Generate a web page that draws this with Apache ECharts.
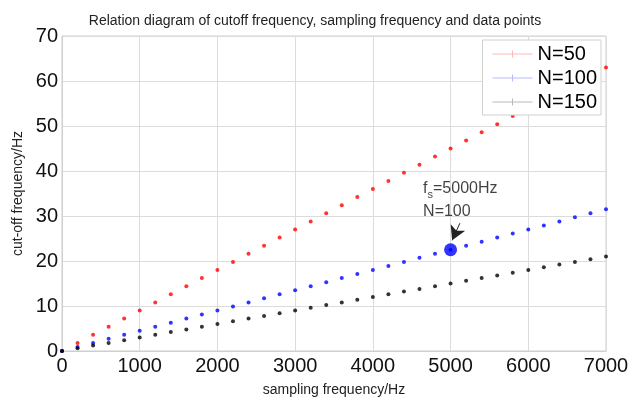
<!DOCTYPE html>
<html><head><meta charset="utf-8">
<script src="https://cdn.jsdelivr.net/npm/echarts@6/dist/echarts.min.js"></script>
<style>html,body{margin:0;padding:0;background:#fff}#c{width:630px;height:400px}</style>
</head><body><div id="c"></div>
<script>
var fs = [0,200,400,600,800,1000,1200,1400,1600,1800,2000,2200,2400,2600,2800,3000,3200,3400,3600,3800,4000,4200,4400,4600,4800,5000,5200,5400,5600,5800,6000,6200,6400,6600,6800,7000];
var n50 = [0,1.8,3.6,5.4,7.2,9,10.8,12.6,14.4,16.2,18,19.8,21.6,23.4,25.2,27,28.8,30.6,32.4,34.2,36,37.8,39.6,41.4,43.2,45,46.8,48.6,50.4,52.2,54,55.8,57.6,59.4,61.2,63];
var n100 = [0,0.9,1.8,2.7,3.6,4.5,5.4,6.3,7.2,8.1,9,9.9,10.8,11.7,12.6,13.5,14.4,15.3,16.2,17.1,18,18.9,19.8,20.7,21.6,22.5,23.4,24.3,25.2,26.1,27,27.9,28.8,29.7,30.6,31.5];
var n150 = [0,0.6,1.2,1.8,2.4,3,3.6,4.2,4.8,5.4,6,6.6,7.2,7.8,8.4,9,9.6,10.2,10.8,11.4,12,12.6,13.2,13.8,14.4,15,15.6,16.2,16.8,17.4,18,18.6,19.2,19.8,20.4,21];
var seriesNames = ['N=50','N=100','N=150'];
var highlight = [5000, 22.5];
var arrowFrom = [5120, 28.4];

function pairs(ys){ return fs.map(function(x,i){ return [x, ys[i]]; }); }
var colors = ['#ff0000','#0000ff','#000000'];
var legendColors = ['rgba(255,0,0,0.35)','rgba(0,0,255,0.35)','rgba(0,0,0,0.35)'];
var icon = 'path://M0,4.6h40v0.8h-40z M19.5,1.5h1v7h-1z';

var chart = echarts.init(document.getElementById('c'));
var font = 'Liberation Sans, Arial, sans-serif';
chart.setOption({
  animation:false,
  title:{text:'Relation diagram of cutoff frequency, sampling frequency and data points', left:'center', top:9,
    textStyle:{fontFamily:font,fontSize:14,fontWeight:'normal',color:'#222'}},
  grid:{left:62,right:24,top:36,bottom:49,show:true,borderColor:'#cfcfcf',borderWidth:1,outerBoundsMode:'none',containLabel:false},
  legend:{right:29,top:40,orient:'vertical',itemWidth:40,itemHeight:10,itemGap:4,
    backgroundColor:'#fff',borderColor:'#d0d0d0',borderWidth:1,padding:[4,4,3,10],
    textStyle:{fontFamily:font,fontSize:20,color:'#000'},
    data:seriesNames.map(function(n,i){return {name:n,icon:icon,itemStyle:{color:legendColors[i]}};})},
  xAxis:{type:'value',min:0,max:7000,interval:1000,name:'sampling frequency/Hz',nameLocation:'middle',nameGap:32,
    nameTextStyle:{fontFamily:font,fontSize:14,color:'#222'},
    axisLine:{lineStyle:{color:'#cfcfcf'}},axisTick:{show:false},
    axisLabel:{fontFamily:font,fontSize:20,color:'#111',margin:5,formatter:function(v){return String(v);}},
    splitLine:{lineStyle:{color:'#dcdcdc'}}},
  yAxis:{type:'value',min:0,max:70,interval:10,name:'cut-off frequency/Hz',nameLocation:'middle',nameGap:36,
    nameTextStyle:{fontFamily:font,fontSize:14,color:'#222'},
    axisLine:{show:true,lineStyle:{color:'#cfcfcf'}},axisTick:{show:false},
    axisLabel:{fontFamily:font,fontSize:20,color:'#111',margin:4},
    splitLine:{lineStyle:{color:'#dcdcdc'}}},
  series:[
    {name:seriesNames[0],type:'scatter',data:pairs(n50),symbol:'circle',symbolSize:4,itemStyle:{color:colors[0]},z:2},
    {name:seriesNames[1],type:'scatter',data:pairs(n100),symbol:'circle',symbolSize:4,itemStyle:{color:colors[1]},z:2},
    {name:seriesNames[2],type:'scatter',data:pairs(n150),symbol:'circle',symbolSize:4,itemStyle:{color:colors[2]},z:2},
    {name:'hl',type:'scatter',data:[highlight],symbol:'circle',symbolSize:13,itemStyle:{color:'#0000ff'},z:3,
      label:{show:true,position:[-21,-66],align:'left',
        formatter:'{a|f}{b|s}{a|=5000Hz}\n{a|N=100}',
        rich:{a:{fontFamily:font,fontSize:16,color:'#111',lineHeight:23},
              b:{fontFamily:font,fontSize:11,color:'#111',padding:[12,0,0,0]}}},
      markLine:{silent:true,symbol:['none','arrow'],symbolSize:[12,14],animation:false,
        lineStyle:{color:'#222',width:1,type:'solid'},label:{show:false},
        data:[[{coord:arrowFrom},{coord:[5020,24.6]}]]}}
  ]
});
</script></body></html>
